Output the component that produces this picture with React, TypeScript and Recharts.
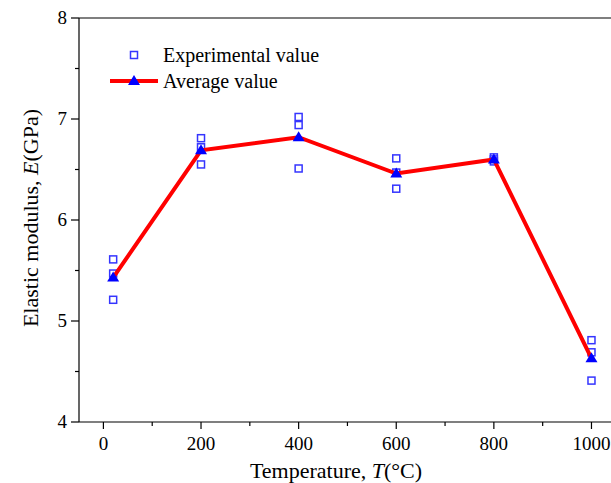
import { ScatterChart, Scatter, XAxis, YAxis, ReferenceLine } from "recharts"

// temperatures (°C) and measured elastic modulus (GPa), three specimens each
const TEMPS = [20, 200, 400, 600, 800, 1000]
const SPECIMEN_1 = [5.61, 6.81, 7.02, 6.61, 6.62, 4.81]
const SPECIMEN_2 = [5.47, 6.72, 6.94, 6.47, 6.6, 4.69]
const SPECIMEN_3 = [5.21, 6.55, 6.51, 6.31, 6.58, 4.41]
const AVERAGE = [5.43, 6.69, 6.82, 6.46, 6.6, 4.63]

const X_TICKS = [0, 100, 200, 300, 400, 500, 600, 700, 800, 900, 1000]
const Y_TICKS = [4, 4.5, 5, 5.5, 6, 6.5, 7, 7.5, 8]

const FONT = "'Liberation Serif', 'Times New Roman', serif"
const BLUE = "#0000ff"
const SQUARE_BLUE = "#3535ff"
const RED = "#ff0000"

const experimental = TEMPS.flatMap((t, i) => [
    { t, e: SPECIMEN_1[i] },
    { t, e: SPECIMEN_2[i] },
    { t, e: SPECIMEN_3[i] },
])
const average = TEMPS.map((t, i) => ({ t, e: AVERAGE[i] }))

const Square = ({ cx, cy }: any) => (
    <rect x={cx - 3.5} y={cy - 3.5} width={7} height={7} fill="#fff" stroke={SQUARE_BLUE} strokeWidth={1.5} />
)

const Triangle = ({ cx, cy }: any) => (
    <path d={`M${cx},${cy - 6} L${cx + 6},${cy + 4} L${cx - 6},${cy + 4} Z`} fill={BLUE} />
)

const XTick = ({ x, y, payload }: any) => {
    const major = payload.value % 200 === 0
    return (
        <g>
            <line x1={x} x2={x} y1={y} y2={y + (major ? 7 : 4)} stroke="#000" strokeWidth={1.2} />
            {major && (
                <text x={x} y={y + 28} textAnchor="middle" fontFamily={FONT} fontSize={19} fill="#000">
                    {payload.value}
                </text>
            )}
        </g>
    )
}

const YTick = ({ x, y, payload }: any) => {
    const major = Number.isInteger(payload.value)
    return (
        <g>
            <line x1={x} x2={x - (major ? 8 : 4)} y1={y} y2={y} stroke="#000" strokeWidth={1.2} />
            {major && (
                <text x={x - 12} y={y + 6} textAnchor="end" fontFamily={FONT} fontSize={19} fill="#000">
                    {payload.value}
                </text>
            )}
        </g>
    )
}

const XTitle = () => (
    <text x={336} y={478} textAnchor="middle" fontFamily={FONT} fontSize={22} fill="#000">
        Temperature, <tspan fontStyle="italic">T</tspan>(°C)
    </text>
)

const YTitle = () => (
    <text
        x={30}
        y={218}
        transform="rotate(-90 30 218)"
        textAnchor="middle"
        dominantBaseline="central"
        fontFamily={FONT}
        fontSize={22}
        fill="#000"
    >
        Elastic modulus, <tspan fontStyle="italic">E</tspan>(GPa)
    </text>
)

const ChartLegend = () => (
    <div style={{ position: "absolute", left: 108, top: 42, fontFamily: FONT, fontSize: 20, color: "#000" }}>
        <div style={{ display: "flex", alignItems: "center", height: 26 }}>
            <svg width={52} height={20}>
                <rect x={22.5} y={6.5} width={7} height={7} fill="#fff" stroke={SQUARE_BLUE} strokeWidth={1.5} />
            </svg>
            <span style={{ marginLeft: 3 }}>Experimental value</span>
        </div>
        <div style={{ display: "flex", alignItems: "center", height: 26 }}>
            <svg width={52} height={20}>
                <line x1={2} x2={50} y1={10} y2={10} stroke={RED} strokeWidth={4} />
                <path d="M26,4 L32,14 L20,14 Z" fill={BLUE} />
            </svg>
            <span style={{ marginLeft: 3 }}>Average value</span>
        </div>
    </div>
)

export default function App() {
    return (
        <div style={{ position: "absolute", left: 0, top: 0, width: 611, height: 483, overflow: "hidden", background: "#fff" }}>
            <ScatterChart width={611} height={483} margin={{ top: 18, right: 0, bottom: 0, left: 0 }}>
                <XAxis
                    type="number"
                    dataKey="t"
                    domain={[-50, 1040]}
                    ticks={X_TICKS}
                    allowDataOverflow
                    height={61}
                    tickLine={false}
                    tickSize={0}
                    tickMargin={0}
                    tick={<XTick />}
                    axisLine={{ stroke: "#000", strokeWidth: 1.2 }}
                    label={<XTitle />}
                />
                <YAxis
                    type="number"
                    dataKey="e"
                    domain={[4, 8]}
                    ticks={Y_TICKS}
                    allowDataOverflow
                    width={79}
                    tickLine={false}
                    tickSize={0}
                    tickMargin={0}
                    tick={<YTick />}
                    axisLine={{ stroke: "#000", strokeWidth: 1.2 }}
                    label={<YTitle />}
                />
                <ReferenceLine y={8} stroke="#000" strokeWidth={1.2} />
                <Scatter data={experimental} shape={<Square />} isAnimationActive={false} />
                <Scatter
                    data={average}
                    shape={<Triangle />}
                    line={{ stroke: RED, strokeWidth: 4 }}
                    lineType="joint"
                    isAnimationActive={false}
                />
            </ScatterChart>
            <ChartLegend />
        </div>
    )
}
